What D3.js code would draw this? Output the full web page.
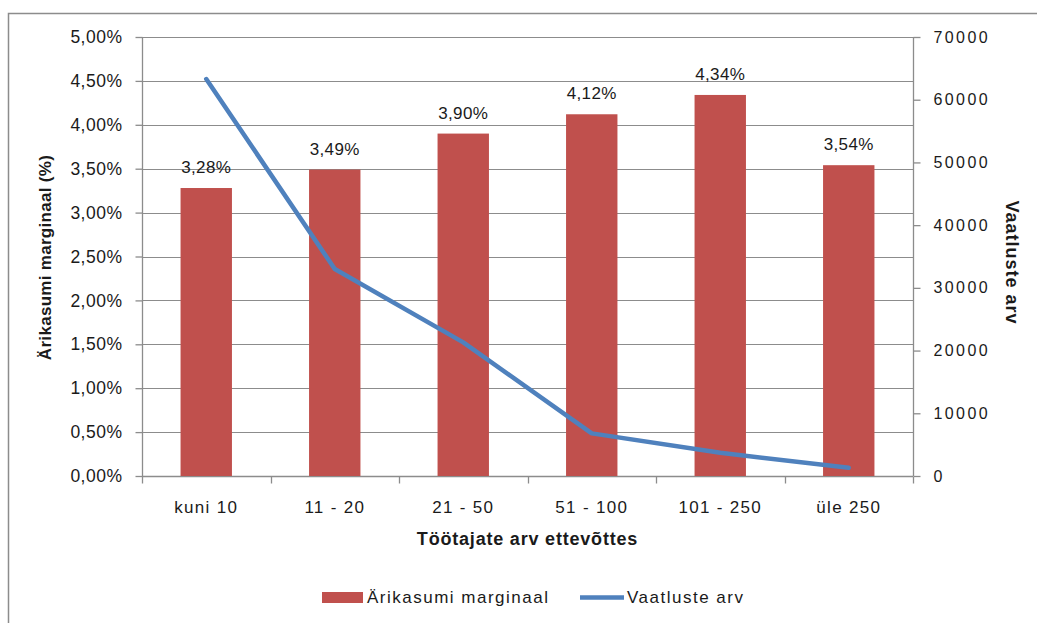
<!DOCTYPE html>
<html>
<head>
<meta charset="utf-8">
<script src="https://cdn.jsdelivr.net/npm/d3@7"></script>
<style>
  html, body { margin: 0; padding: 0; background: #fff; }
  svg { display: block; font-family: "Liberation Sans", Arial, sans-serif; }
</style>
</head>
<body>
<svg id="chart" width="1037" height="623"></svg>
<script>
// Company size groups (employees per company)
const categories = ["kuni 10", "11 - 20", "21 - 50", "51 - 100", "101 - 250", "üle 250"];
// Operating profit margin, %
const margin = [3.28, 3.49, 3.90, 4.12, 4.34, 3.54];
// Number of observations
const observations = [63300, 33000, 21300, 6800, 3700, 1300];
// Axis ticks
const leftTicks = [0, 0.5, 1, 1.5, 2, 2.5, 3, 3.5, 4, 4.5, 5];
const rightTicks = [0, 10000, 20000, 30000, 40000, 50000, 60000, 70000];

const svg = d3.select("#chart");
const W = 1037, H = 623;
const plot = { left: 142, right: 913, top: 37, bottom: 476 };

const barColor = "#C0504D";
const lineColor = "#4F81BD";
const gridColor = "#8C8C8C";
const textColor = "#1a1a1a";

// Outer chart frame
svg.append("rect")
  .attr("x", 8.5).attr("y", 13.5)
  .attr("width", W + 20).attr("height", H + 20)
  .attr("fill", "none").attr("stroke", "#8C8C8C").attr("stroke-width", 1.5);

const x = d3.scaleBand().domain(categories).range([plot.left, plot.right]).paddingInner(0.6).paddingOuter(0.3);
const xBand = d3.scaleBand().domain(categories).range([plot.left, plot.right]);
const yL = d3.scaleLinear().domain([0, 5]).range([plot.bottom, plot.top]);
const yR = d3.scaleLinear().domain([0, 70000]).range([plot.bottom, plot.top]);

const fmtPct = v => d3.format(".2f")(v).replace(".", ",") + "%";

// Horizontal gridlines
svg.append("g")
  .selectAll("line").data(leftTicks.slice(1)).join("line")
  .attr("x1", plot.left).attr("x2", plot.right)
  .attr("y1", d => Math.round(yL(d)) + 0.5).attr("y2", d => Math.round(yL(d)) + 0.5)
  .attr("stroke", gridColor).attr("stroke-width", 1);

// Left axis
const axL = svg.append("g").attr("transform", `translate(${plot.left + 0.5},0)`)
  .call(d3.axisLeft(yL).tickValues(leftTicks).tickFormat(fmtPct).tickSize(7).tickPadding(13));
// Right axis
const axR = svg.append("g").attr("transform", `translate(${plot.right + 0.5},0)`)
  .call(d3.axisRight(yR).tickValues(rightTicks).tickFormat(d3.format("d")).tickSize(7).tickPadding(13));
// Bottom axis with ticks at category boundaries
const axB = svg.append("g").attr("transform", `translate(0,${plot.bottom + 0.5})`)
  .call(d3.axisBottom(xBand).tickSize(0).tickPadding(24));
axB.selectAll(".tick line").remove();
const bounds = categories.map(c => xBand(c)).concat([plot.right]);
axB.selectAll(".bound").data(bounds).join("line")
  .attr("class", "bound")
  .attr("x1", d => Math.round(d) + 0.5).attr("x2", d => Math.round(d) + 0.5)
  .attr("y1", 0).attr("y2", 7);

[axL, axR, axB].forEach(ax => {
  ax.select(".domain").attr("stroke", gridColor).attr("stroke-width", 1.3);
  ax.selectAll(".tick line, .bound").attr("stroke", gridColor).attr("stroke-width", 1.3);
  ax.selectAll("text").attr("fill", textColor)
    .attr("font-family", "'Liberation Sans', Arial, sans-serif");
});
axL.selectAll("text").attr("font-size", 17.5).attr("letter-spacing", 0.5);
axR.selectAll("text").attr("font-size", 16).attr("letter-spacing", 2.4);
axB.selectAll("text").attr("font-size", 17).attr("letter-spacing", 1.3);
axL.select(".domain").attr("d", `M0,${plot.top}V${plot.bottom}`);
axR.select(".domain").attr("d", `M0,${plot.top}V${plot.bottom}`);
axB.select(".domain").attr("d", `M${plot.left},0H${plot.right}`);

// Bars
svg.append("g").selectAll("rect").data(categories).join("rect")
  .attr("x", d => x(d)).attr("width", x.bandwidth())
  .attr("y", (d, i) => yL(margin[i]))
  .attr("height", (d, i) => plot.bottom - yL(margin[i]))
  .attr("fill", barColor);

// Bar value labels
svg.append("g").selectAll("text").data(categories).join("text")
  .attr("x", d => x(d) + x.bandwidth() / 2)
  .attr("y", (d, i) => yL(margin[i]) - 15)
  .attr("text-anchor", "middle")
  .attr("font-size", 17).attr("letter-spacing", 0.4).attr("fill", textColor)
  .text((d, i) => fmtPct(margin[i]));

// Observations line
const line = d3.line()
  .x((d, i) => xBand(categories[i]) + xBand.bandwidth() / 2)
  .y(d => yR(d));
svg.append("path").datum(observations)
  .attr("d", line)
  .attr("fill", "none").attr("stroke", lineColor)
  .attr("stroke-width", 4.5).attr("stroke-linejoin", "round").attr("stroke-linecap", "round");

// Axis titles
svg.append("text")
  .attr("transform", `translate(51,${(plot.top + plot.bottom) / 2 + 1}) rotate(-90)`)
  .attr("text-anchor", "middle").attr("font-weight", "bold").attr("font-size", 17)
  .attr("letter-spacing", 0.3).attr("fill", textColor)
  .text("Ärikasumi marginaal (%)");
svg.append("text")
  .attr("transform", `translate(1006,${(plot.top + plot.bottom) / 2 + 6}) rotate(90)`)
  .attr("text-anchor", "middle").attr("font-weight", "bold").attr("font-size", 18)
  .attr("letter-spacing", 1).attr("fill", textColor)
  .text("Vaatluste arv");
svg.append("text")
  .attr("x", (plot.left + plot.right) / 2).attr("y", 545)
  .attr("text-anchor", "middle").attr("font-weight", "bold").attr("font-size", 18)
  .attr("letter-spacing", 0.8).attr("fill", textColor)
  .text("Töötajate arv ettevõttes");

// Legend
const lg = svg.append("g");
lg.append("rect").attr("x", 322).attr("y", 592).attr("width", 41).attr("height", 11).attr("fill", barColor);
lg.append("text").attr("x", 367).attr("y", 603).attr("font-size", 17).attr("letter-spacing", 1.5)
  .attr("fill", textColor).text("Ärikasumi marginaal");
lg.append("line").attr("x1", 580).attr("x2", 624).attr("y1", 597.5).attr("y2", 597.5)
  .attr("stroke", lineColor).attr("stroke-width", 4.5);
lg.append("text").attr("x", 627).attr("y", 603).attr("font-size", 17).attr("letter-spacing", 1.5)
  .attr("fill", textColor).text("Vaatluste arv");
</script>
</body>
</html>
